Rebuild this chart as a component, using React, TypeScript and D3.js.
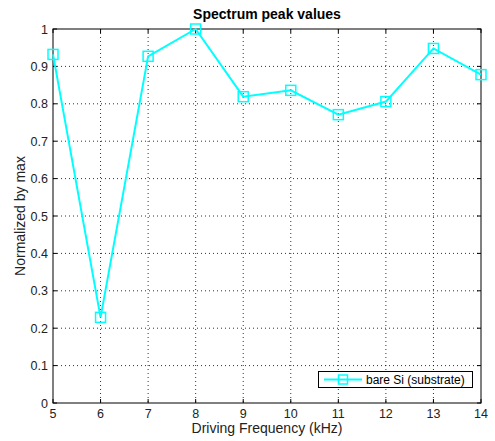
import React from "react";
import * as d3 from "d3";

const freqs = [5, 6, 7, 8, 9, 10, 11, 12, 13, 14];
const values = [0.932, 0.229, 0.927, 1.0, 0.819, 0.836, 0.771, 0.806, 0.948, 0.878];
const xTicks = [5, 6, 7, 8, 9, 10, 11, 12, 13, 14];
const yTicks = [0, 0.1, 0.2, 0.3, 0.4, 0.5, 0.6, 0.7, 0.8, 0.9, 1];
const title = "Spectrum peak values";
const xLabel = "Driving Frequency (kHz)";
const yLabel = "Normalized by max";
const seriesName = "bare Si (substrate)";

export default function App() {
  const W = 495, H = 441;
  const L = 53, R = 481, T = 29, B = 403;
  const x = d3.scaleLinear().domain([5, 14]).range([L, R]);
  const y = d3.scaleLinear().domain([0, 1]).range([B, T]);
  const line = d3.line<number>().x((_, i) => x(freqs[i])).y((v) => y(v));
  const font = "Liberation Sans, Arial, sans-serif";
  const tk = 4;
  return (
    <svg width={W} height={H} style={{ position: "absolute", left: 0, top: 0, background: "#fff" }}>
      <rect x={0} y={0} width={W} height={H} fill="#fff" />
      {/* grid */}
      {xTicks.slice(1, -1).map((t) => (
        <line key={"gx" + t} x1={x(t)} x2={x(t)} y1={T} y2={B} stroke="#000" strokeWidth={1} strokeDasharray="1,3" opacity={0.8} />
      ))}
      {yTicks.slice(1, -1).map((t) => (
        <line key={"gy" + t} x1={L} x2={R} y1={y(t)} y2={y(t)} stroke="#000" strokeWidth={1} strokeDasharray="1,3" opacity={0.8} />
      ))}
      {/* ticks */}
      {xTicks.map((t) => (
        <g key={"tx" + t}>
          <line x1={x(t)} x2={x(t)} y1={B} y2={B - tk} stroke="#000" />
          <line x1={x(t)} x2={x(t)} y1={T} y2={T + tk} stroke="#000" />
          <text x={x(t)} y={B + 15} textAnchor="middle" fontFamily={font} fontSize={12.5} fill="#222">{t}</text>
        </g>
      ))}
      {yTicks.map((t) => (
        <g key={"ty" + t}>
          <line x1={L} x2={L + tk} y1={y(t)} y2={y(t)} stroke="#000" />
          <line x1={R} x2={R - tk} y1={y(t)} y2={y(t)} stroke="#000" />
          <text x={L - 5} y={y(t) + 4.5} textAnchor="end" fontFamily={font} fontSize={12.5} fill="#222">{d3.format("~g")(t)}</text>
        </g>
      ))}
      <rect x={L} y={T} width={R - L} height={B - T} fill="none" stroke="#000" strokeWidth={1} />
      {/* series */}
      <path d={line(values) || ""} fill="none" stroke="#00ffff" strokeWidth={2} />
      {values.map((v, i) => (
        <rect key={"m" + i} x={x(freqs[i]) - 5} y={y(v) - 5} width={10} height={10} fill="none" stroke="#00ffff" strokeWidth={1.5} />
      ))}
      {/* legend */}
      <rect x={318.5} y={371.5} width={154} height={16} fill="#fff" stroke="#000" strokeWidth={1} />
      <line x1={324} x2={362} y1={379.5} y2={379.5} stroke="#00ffff" strokeWidth={2} />
      <rect x={338.5} y={375} width={9} height={9} fill="none" stroke="#00ffff" strokeWidth={1.5} />
      <text x={366} y={384} fontFamily={font} fontSize={12} fill="#000">{seriesName}</text>
      {/* labels */}
      <text x={(L + R) / 2} y={19} textAnchor="middle" fontFamily={font} fontSize={14} fontWeight="bold" fill="#000">{title}</text>
      <text x={(L + R) / 2} y={433} textAnchor="middle" fontFamily={font} fontSize={14} fill="#222">{xLabel}</text>
      <text transform={`translate(25,${(T + B) / 2}) rotate(-90)`} textAnchor="middle" fontFamily={font} fontSize={14} fill="#222">{yLabel}</text>
    </svg>
  );
}
